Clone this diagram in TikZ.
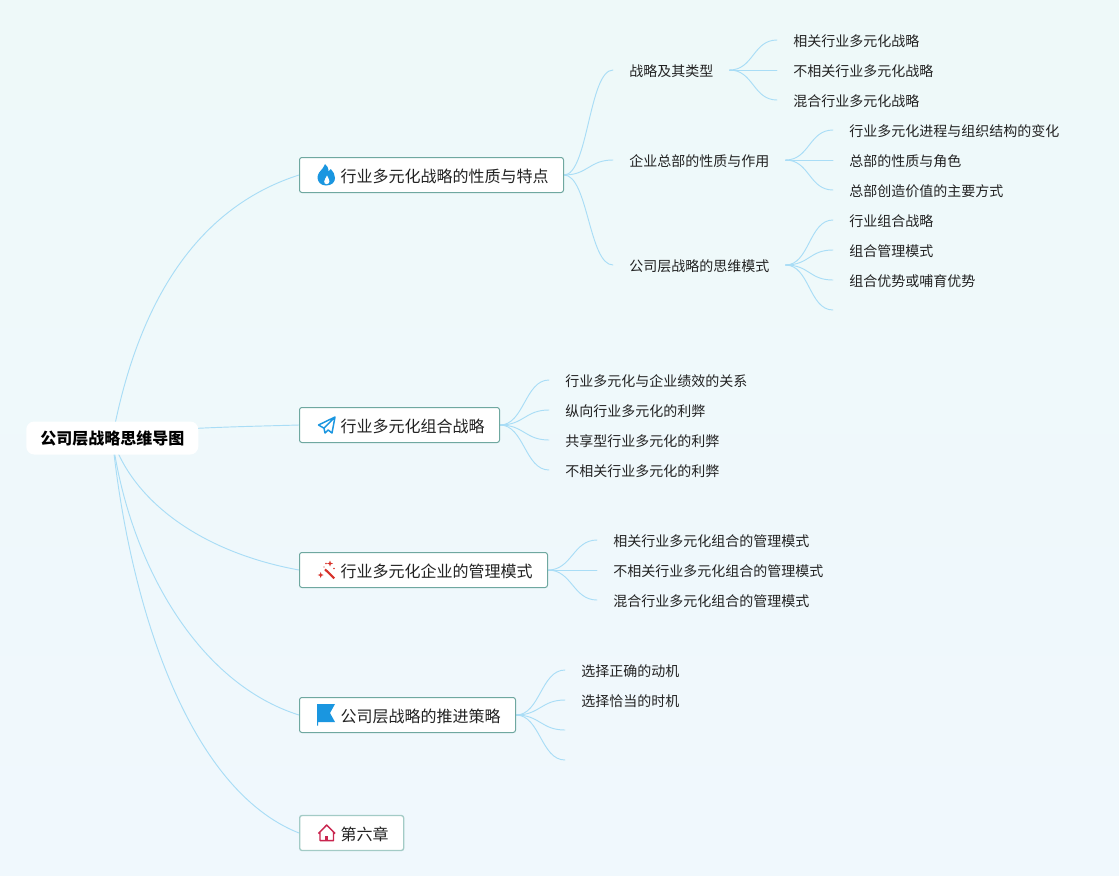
\documentclass[tikz,border=0pt]{standalone}
\usepackage{fontspec}
\setmainfont{Noto Sans CJK SC}
\usetikzlibrary{backgrounds}
\definecolor{bgtop}{HTML}{EEF9F9}
\definecolor{bgbot}{HTML}{F0F8FD}
\definecolor{wirecol}{HTML}{A9DDF6}
\definecolor{boxline}{HTML}{6FA8A0}
\definecolor{boxlight}{HTML}{A3CBC6}
\definecolor{inkcol}{HTML}{222222}
\definecolor{iconblue}{HTML}{1A96E0}
\definecolor{iconred}{HTML}{D8322A}
\definecolor{iconpink}{HTML}{C9254F}
\tikzset{
  x=0.75pt,y=-0.75pt,
  wire/.style={draw=wirecol,line width=0.7pt,line cap=round},
  rootnode/.style={anchor=west,fill=white,rounded corners=6pt,inner xsep=10.5pt,inner ysep=0pt,minimum height=24.75pt,text height=11pt,text depth=1pt,text=black,font=\fontsize{12}{14}\selectfont\bfseries},
  boxnode/.style={anchor=west,fill=white,draw=boxline,line width=0.75pt,rounded corners=1.8pt,inner xsep=11.25pt,inner ysep=0pt,minimum height=26.25pt,text height=11.5pt,text depth=0.5pt,text=inkcol,font=\fontsize{12}{14}\selectfont},
  leafnode/.style={anchor=west,inner xsep=12pt,inner ysep=0pt,minimum height=20pt,text height=10pt,text depth=0.2pt,text=inkcol,font=\fontsize{10.5}{13}\selectfont},
}
\newcommand{\sw}[2]{\draw[wire] (#1) .. controls +(24,0) and +(-24,0) .. (#2);}
\newcommand{\iconpad}{\hspace{19.5pt}}
\begin{document}
\begin{tikzpicture}
\useasboundingbox (0,0) rectangle (1119,875);
% nodes
\node[rootnode] (root) at (26,438) {公司层战略思维导图};
\node[boxnode] (b1) at (299,175) {\iconpad 行业多元化战略的性质与特点};
\node[boxnode] (b2) at (299,425) {\iconpad 行业多元化组合战略};
\node[boxnode] (b3) at (299,570) {\iconpad 行业多元化企业的管理模式};
\node[boxnode] (b4) at (299,715) {\iconpad 公司层战略的推进策略};
\node[boxnode,draw=boxlight,line width=1pt] (b5) at (299,833) {\iconpad 第六章};
\node[leafnode] (s1) at (613,70) {战略及其类型};
\node[leafnode] (s2) at (613,160) {企业总部的性质与作用};
\node[leafnode] (s3) at (613,265) {公司层战略的思维模式};
\node[leafnode] (l11) at (777,40) {相关行业多元化战略};
\node[leafnode] (l12) at (777,70) {不相关行业多元化战略};
\node[leafnode] (l13) at (777,100) {混合行业多元化战略};
\node[leafnode] (l21) at (833,130) {行业多元化进程与组织结构的变化};
\node[leafnode] (l22) at (833,160) {总部的性质与角色};
\node[leafnode] (l23) at (833,190) {总部创造价值的主要方式};
\node[leafnode] (l31) at (833,220) {行业组合战略};
\node[leafnode] (l32) at (833,250) {组合管理模式};
\node[leafnode] (l33) at (833,280) {组合优势或哺育优势};
\coordinate (l34) at (833,310);
\node[leafnode] (m1) at (549,380) {行业多元化与企业绩效的关系};
\node[leafnode] (m2) at (549,410) {纵向行业多元化的利弊};
\node[leafnode] (m3) at (549,440) {共享型行业多元化的利弊};
\node[leafnode] (m4) at (549,470) {不相关行业多元化的利弊};
\node[leafnode] (n1) at (597,540) {相关行业多元化组合的管理模式};
\node[leafnode] (n2) at (597,570) {不相关行业多元化组合的管理模式};
\node[leafnode] (n3) at (597,600) {混合行业多元化组合的管理模式};
\node[leafnode] (p1) at (565,670) {选择正确的动机};
\node[leafnode] (p2) at (565,700) {选择恰当的时机};
\coordinate (p3) at (565,730);
\coordinate (p4) at (565,760);
% connectors and background
\begin{scope}[on background layer]
\shade[top color=bgtop,bottom color=bgbot] (0,0) rectangle (1119,875);
\draw[wire] (root.center) .. controls (140,290) and (205,205) .. (b1.west);
\draw[wire] (root.center) .. controls (150,428) and (230,427) .. (b2.west);
\draw[wire] (root.center) .. controls (132,500) and (200,552) .. (b3.west);
\draw[wire] (root.center) .. controls (129,562) and (197,683) .. (b4.west);
\draw[wire] (root.center) .. controls (130,610) and (190,790) .. (b5.west);
\sw{b1.east}{s1.west}\sw{b1.east}{s2.west}\sw{b1.east}{s3.west}
\sw{s1.east}{l11.west}\sw{s1.east}{l12.west}\sw{s1.east}{l13.west}
\sw{s2.east}{l21.west}\sw{s2.east}{l22.west}\sw{s2.east}{l23.west}
\sw{s3.east}{l31.west}\sw{s3.east}{l32.west}\sw{s3.east}{l33.west}\sw{s3.east}{l34}
\sw{b2.east}{m1.west}\sw{b2.east}{m2.west}\sw{b2.east}{m3.west}\sw{b2.east}{m4.west}
\sw{b3.east}{n1.west}\sw{b3.east}{n2.west}\sw{b3.east}{n3.west}
\sw{b4.east}{p1.west}\sw{b4.east}{p2.west}\sw{b4.east}{p3}\sw{b4.east}{p4}
\end{scope}
% icons
\fill[iconblue] (326,185.5) .. controls (320.5,185.5) and (317.5,181.5) .. (317.5,177.5)
  .. controls (317.5,173.5) and (320.5,171) .. (322.5,168.5) .. controls (323.5,167) and (324.5,165.5) .. (325,164)
  .. controls (327,165.5) and (328.5,168) .. (328.5,171.5) .. controls (329.5,171) and (330.3,170) .. (330.8,169)
  .. controls (333.2,171.5) and (335,174.5) .. (335,178) .. controls (335,182) and (332,185.5) .. (326,185.5) -- cycle;
\fill[white] (326.5,184.2) .. controls (325,184.2) and (324.2,183) .. (324.2,181.5) .. controls (324.2,179.5) and (326,178) .. (327,175.5)
  .. controls (328.2,178) and (329.4,179.5) .. (329.4,181.5) .. controls (329.4,183) and (328,184.2) .. (326.5,184.2) -- cycle;
\draw[iconblue,line width=1.1pt,line join=round] (335,417) -- (318.5,425) -- (324,428.2) -- (325,433) -- (328.2,430) -- (332,433) -- cycle (335,417) -- (324,428.2);
\draw[iconred,line width=1.6pt] (325,569.3) -- (334.3,578.3);
\fill[iconred] (330,560.5) -- (330.8,562.7) -- (333,563.5) -- (330.8,564.3) -- (330,566.5) -- (329.2,564.3) -- (327,563.5) -- (329.2,562.7) -- cycle;
\fill[iconred] (320.7,572) -- (321.5,574.2) -- (323.7,575) -- (321.5,575.8) -- (320.7,578) -- (319.9,575.8) -- (317.7,575) -- (319.9,574.2) -- cycle;
\fill[iconred] (326,563.5) circle[radius=0.8];
\fill[iconred] (334,568.5) circle[radius=0.8];
\fill[iconred] (324,567) circle[radius=0.7];
\fill[iconblue] (317,704) -- (335,704) -- (330,713) -- (335,722) -- (318,722) -- (318,725.5) -- (317,725.5) -- cycle;
\draw[iconpink,line width=1.1pt,line join=round] (318.5,833.5) -- (326.7,825) -- (335,833.5) (320,832) -- (320,840.5) -- (333.5,840.5) -- (333.5,832);
\draw[iconpink,line width=2pt] (326.7,836) -- (326.7,840.5);
\end{tikzpicture}
\end{document}
